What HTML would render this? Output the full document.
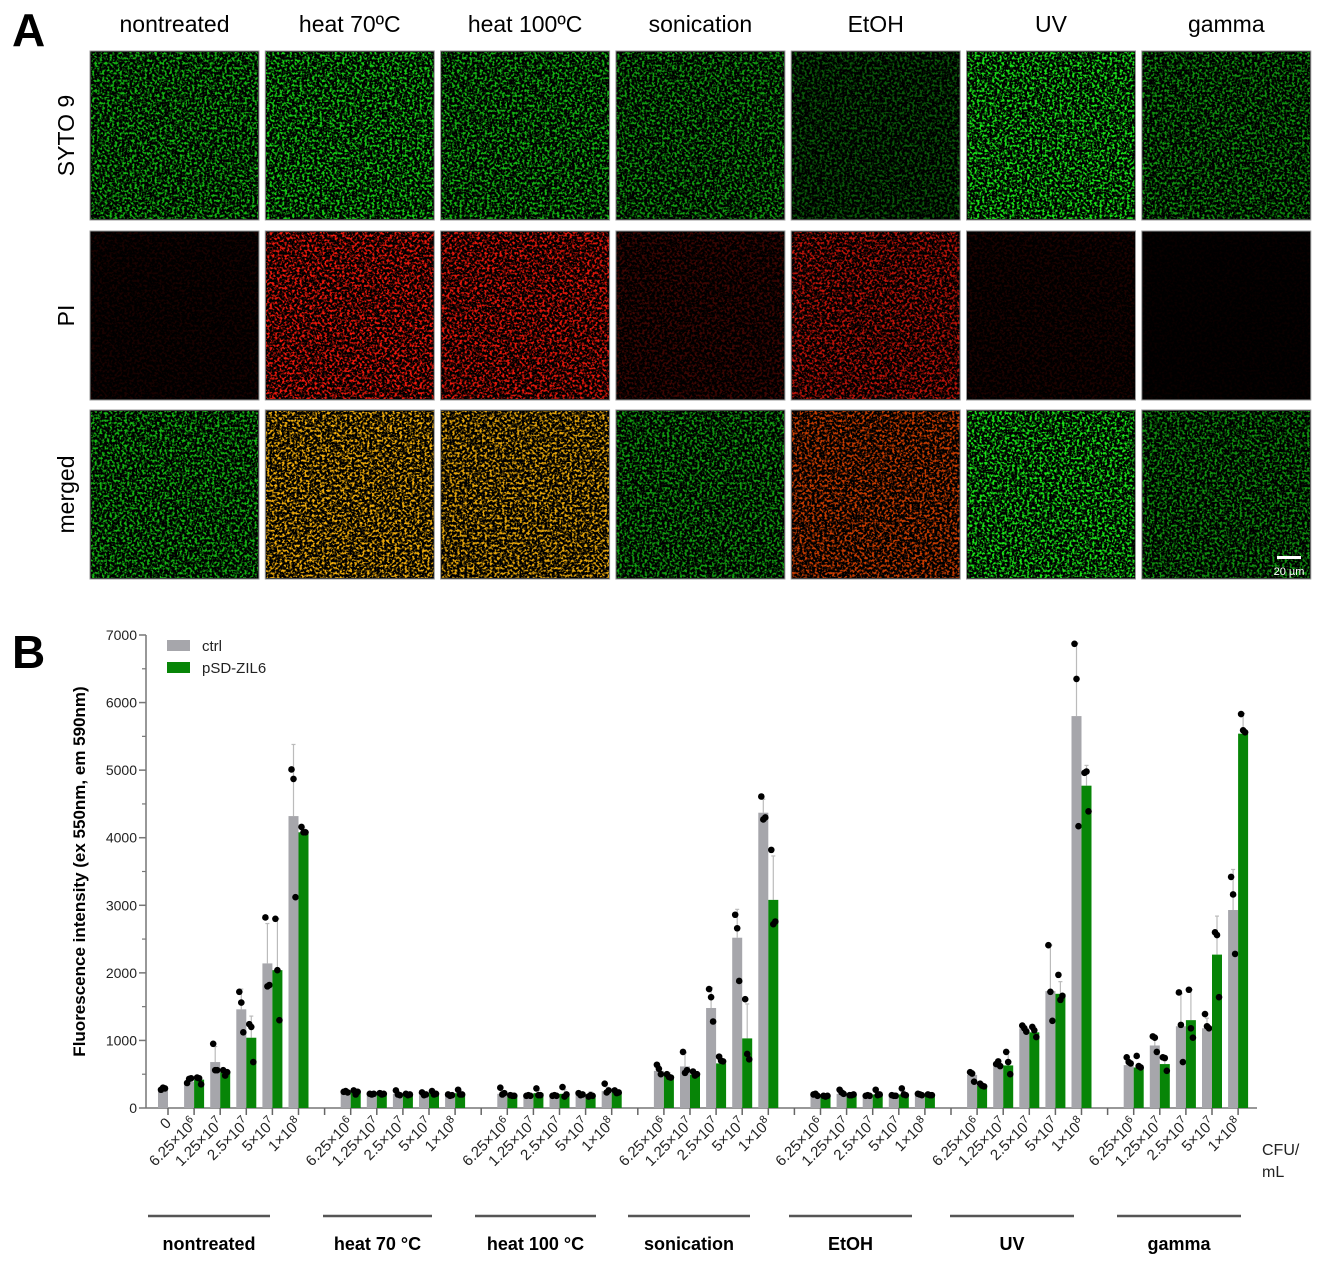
<!DOCTYPE html>
<html><head><meta charset="utf-8"><style>
html,body{margin:0;padding:0;background:#fff;}
svg{display:block;font-family:"Liberation Sans",Arial,sans-serif;}
</style></head><body>
<svg id="fig" width="1325" height="1268" viewBox="0 0 1325 1268" xmlns="http://www.w3.org/2000/svg">
<defs id="defs"></defs>
<text x="12" y="46" font-size="46" font-weight="bold">A</text>
<text x="12" y="668" font-size="46" font-weight="bold">B</text>
<g id="panelA"></g>
<g id="chart"></g>
</svg>
<script>
// ---------- Panel A ----------
const colTitles = ["nontreated","heat 70ºC","heat 100ºC","sonication","EtOH","UV","gamma"];
const rowTitles = ["SYTO 9","PI","merged"];
const sytoIntensity = [0.8,0.9,0.8,0.7,0.4,1.0,0.65];
const piIntensity = [0.1,0.95,0.9,0.25,0.75,0.12,0.04];
const mergedColor = ["g","o","o","g","r","g","g"];
const mergedIntensity = [0.8,0.95,0.9,0.7,0.8,1.0,0.65];

const NS="http://www.w3.org/2000/svg";
const svg=document.getElementById('fig');
const defs=document.getElementById('defs');
const pA=document.getElementById('panelA');
function mk(tag,attrs,parent){const e=document.createElementNS(NS,tag);for(const k in attrs)e.setAttribute(k,attrs[k]);(parent||svg).appendChild(e);return e;}
const colorMap={g:"0 0 0 0 0.1  0 0 0 0 0.9  0 0 0 0 0.1",r:"0 0 0 0 1  0 0 0 0 0.1  0 0 0 0 0.05",o:"0 0 0 0 1  0 0 0 0 0.72  0 0 0 0 0.05",rr:"0 0 0 0 1  0 0 0 0 0.3  0 0 0 0 0.0"};
function filt(id,col,seed){
  const f=mk('filter',{id:id,x:'0',y:'0',width:'1',height:'1','color-interpolation-filters':'sRGB'},defs);
  mk('feTurbulence',{type:'fractalNoise',baseFrequency:'0.4',numOctaves:'2',seed:seed,result:'n'},f);
  mk('feColorMatrix',{type:'matrix',values:colorMap[col]+"  4.5 0 0 0 -2.05",in:'n'},f);
}
filt('fg','g',3);filt('fr','r',7);filt('fo','o',11);filt('frr','rr',5);
const tileX0=90, tilePitch=175.3, tileW=169;
const rowY=[51,231,410], tileH=169;
colTitles.forEach((t,i)=>{
  const tx=mk('text',{x:tileX0+i*tilePitch+tileW/2,y:32,'font-size':23,'text-anchor':'middle'},pA);
  tx.textContent=t;
  
  
});
rowTitles.forEach((t,r)=>{
  const cy=rowY[r]+tileH/2;
  const tx=mk('text',{x:0,y:0,'font-size':23,'text-anchor':'middle',transform:`translate(74,${cy}) rotate(-90)`},pA);
  tx.textContent=t;
  
  
});
for(let r=0;r<3;r++)for(let i=0;i<7;i++){
  const x=tileX0+i*tilePitch, y=rowY[r];
  const g=mk('g',{},pA);
  
  
  mk('rect',{x:x,y:y,width:tileW,height:tileH,fill:'#000',stroke:'#999','stroke-width':1},g);
  let f,op;
  if(r===0){f='fg';op=sytoIntensity[i];}
  else if(r===1){f='fr';op=piIntensity[i];}
  else {f={g:'fg',o:'fo',r:'frr'}[mergedColor[i]];op=mergedIntensity[i];}
  mk('rect',{x:x+1,y:y+1,width:tileW-2,height:tileH-2,fill:'#fff',filter:`url(#${f})`,opacity:op},g);
}
{
  const g=mk('g',{},pA);
  
  
  mk('rect',{x:1277,y:556,width:24,height:3,fill:'#fff'},g);
  const t=mk('text',{x:1289,y:575,'font-size':11,'text-anchor':'middle',fill:'#fff'},g);t.textContent='20 µm';
}

// ---------- Panel B ----------
const groups = ["nontreated","heat 70 °C","heat 100 °C","sonication","EtOH","UV","gamma"];
const concLabels = ["6.25×10^6","1.25×10^7","2.5×10^7","5×10^7","1×10^8"];
const yTicks = [0,1000,2000,3000,4000,5000,6000,7000];
const zeroCtrl = 285, zeroCtrlSd = 25, zeroCtrlPts = [270,300,290];
const ctrlMean = [
 [390,680,1460,2140,4320],
 [230,200,210,190,180],
 [210,180,180,200,250],
 [550,615,1480,2520,4370],
 [190,210,180,180,200],
 [490,650,1180,1730,5800],
 [635,925,1210,1180,2930]];
const ctrlSd = [
 [40,230,300,590,1060],
 [20,20,30,20,20],
 [40,20,20,20,60],
 [80,200,300,420,200],
 [20,30,20,20,20],
 [60,50,40,680,1080],
 [60,150,480,150,600]];
const ctrlPts = [
 [[370,430,440],[950,560,560],[1720,1560,1120],[2820,1800,1820],[5010,4870,3120]],
 [[240,250,230],[210,200,210],[260,200,190],[230,190,200],[200,180,190]],
 [[300,200,220],[180,190,180],[180,190,180],[220,190,200],[360,230,260]],
 [[640,580,500],[830,520,560],[1760,1640,1280],[2860,2660,1880],[4610,4270,4300]],
 [[200,210,180],[270,230,210],[180,190,180],[190,180,180],[210,200,190]],
 [[530,510,390],[650,690,620],[1220,1180,1130],[2410,1720,1290],[6870,6350,4170]],
 [[750,680,660],[1060,1040,830],[1710,1230,680],[1390,1210,1180],[3420,3160,2280]]];
const trtMean = [
 [420,530,1040,2040,4080],
 [230,210,200,220,220],
 [180,220,210,180,230],
 [480,495,660,1030,3080],
 [180,190,200,200,190],
 [330,630,1120,1690,4770],
 [600,650,1300,2270,5540]];
const trtSd = [
 [50,40,320,760,60],
 [30,20,20,30,40],
 [20,40,60,60,30],
 [40,40,50,510,650],
 [20,30,40,50,20],
 [30,200,80,180,300],
 [50,50,450,570,300]];
const trtPts = [
 [[450,440,350],[560,480,530],[1240,1200,680],[2800,2040,1300],[4160,4080,4080]],
 [[260,200,240],[220,200,210],[210,190,200],[250,200,210],[270,200,200]],
 [[190,180,180],[290,190,190],[310,170,200],[170,190,180],[260,220,230]],
 [[500,460,450],[540,480,500],[760,700,690],[1610,800,720],[3820,2720,2760]],
 [[180,170,180],[190,190,200],[270,190,200],[290,200,190],[200,190,190]],
 [[360,330,320],[830,680,500],[1200,1150,1050],[1970,1600,1660],[4960,4980,4390]],
 [[770,620,600],[750,740,550],[1750,1180,1040],[2600,2560,1640],[5830,5590,5560]]];

const ch=document.getElementById('chart');
const axX0=146, axX1=1257, y0px=1108, y1px=635, yMax=7000;
const slot0=168, slotW=26.1;
const yS=v=>y0px-(v/yMax)*(y0px-y1px);
const xS=i=>slot0+i*slotW;
const slotOf=(g,k)=> g===0 ? k+1 : 6*g+1+k;
// group underline extents (layout, px)
const ulStart=[148,323,475,628,789,950,1117];
const ulEnd=[270,432,596,750,912,1074,1241];

mk('line',{x1:axX0,y1:y0px,x2:axX0,y2:y1px,stroke:'#777','stroke-width':1.5},ch);
yTicks.forEach(v=>{
  mk('line',{x1:axX0-7,x2:axX0,y1:yS(v),y2:yS(v),stroke:'#777','stroke-width':1.5},ch);
  if(v<yMax) mk('line',{x1:axX0-4,x2:axX0,y1:yS(v+500),y2:yS(v+500),stroke:'#777','stroke-width':1.2},ch);
  const t=mk('text',{x:axX0-9,y:yS(v)+5,'font-size':14,'text-anchor':'end',fill:'#222'},ch);
  t.textContent=v;
  
  
});
{const t=mk('text',{x:0,y:0,'font-size':17,'font-weight':'bold','text-anchor':'middle',transform:`translate(85,${(y0px+y1px)/2}) rotate(-90)`},ch);
 t.textContent='Fluorescence intensity (ex 550nm, em 590nm)';
 
 }
mk('line',{x1:axX0,y1:y0px,x2:axX1,y2:y0px,stroke:'#777','stroke-width':1.5},ch);
for(let i=0;i<42;i++){
  mk('line',{x1:xS(i),x2:xS(i),y1:y0px,y2:y0px+7,stroke:'#666','stroke-width':1.5},ch);
}

function label(i,txt){
  const x=xS(i)+4, y=y0px+16;
  const t=mk('text',{'font-size':15,'text-anchor':'end',fill:'#222',transform:`translate(${x},${y}) rotate(-45)`},ch);
  
  
  const p=txt.split('^');
  const s1=mk('tspan',{},t);s1.textContent=p[0];
  if(p[1]){const s2=mk('tspan',{'font-size':11,dy:-6},t);s2.textContent=p[1];}
}
function bar(cx,val,sd,pts,color,name){
  const g=mk('g',{},ch);
  
  
  mk('line',{x1:cx,x2:cx,y1:yS(val),y2:yS(val+sd),stroke:'#bbb','stroke-width':1.2},g);
  mk('line',{x1:cx-2,x2:cx+2,y1:yS(val+sd),y2:yS(val+sd),stroke:'#bbb','stroke-width':1.2},g);
  mk('rect',{x:cx-5,y:yS(val),width:10,height:y0px-yS(val),fill:color},g);
  const off=[-2,0,2];
  pts.forEach((p,j)=>mk('circle',{cx:cx+off[j],cy:yS(p),r:3.3,fill:'#000'},g));
}
bar(xS(0)-5,zeroCtrl,zeroCtrlSd,zeroCtrlPts,'#a6a6ab','bar-ctrl-0');
label(0,'0');
groups.forEach((gname,g)=>{
  for(let k=0;k<5;k++){
    const i=slotOf(g,k);
    bar(xS(i)-5,ctrlMean[g][k],ctrlSd[g][k],ctrlPts[g][k],'#a6a6ab','bar-ctrl-'+g+'-'+k);
    bar(xS(i)+5,trtMean[g][k],trtSd[g][k],trtPts[g][k],'#078507','bar-psd-'+g+'-'+k);
    label(i,concLabels[k]);
  }
  const a = ulStart[g], b = ulEnd[g];
  const ln=mk('line',{x1:a,x2:b,y1:1216,y2:1216,stroke:'#555','stroke-width':2.5},ch);
  
  
  const t=mk('text',{x:(a+b)/2,y:1250,'font-size':18,'font-weight':'bold','text-anchor':'middle'},ch);
  t.textContent=gname;
  
  
});
{const t=mk('text',{x:1262,y:1155,'font-size':16,fill:'#222'},ch);t.textContent='CFU/';
 
 const t2=mk('text',{x:1262,y:1177,'font-size':16,fill:'#222'},ch);t2.textContent='mL';}
{const g=mk('g',{},ch);
 
 
 mk('rect',{x:167,y:640,width:23,height:11,fill:'#a6a6ab'},g);
 const a=mk('text',{x:202,y:651,'font-size':15,fill:'#222'},g);a.textContent='ctrl';
 mk('rect',{x:167,y:662,width:23,height:11,fill:'#078507'},g);
 const b=mk('text',{x:202,y:673,'font-size':15,fill:'#222'},g);b.textContent='pSD-ZIL6';}
</script>
</body></html>
